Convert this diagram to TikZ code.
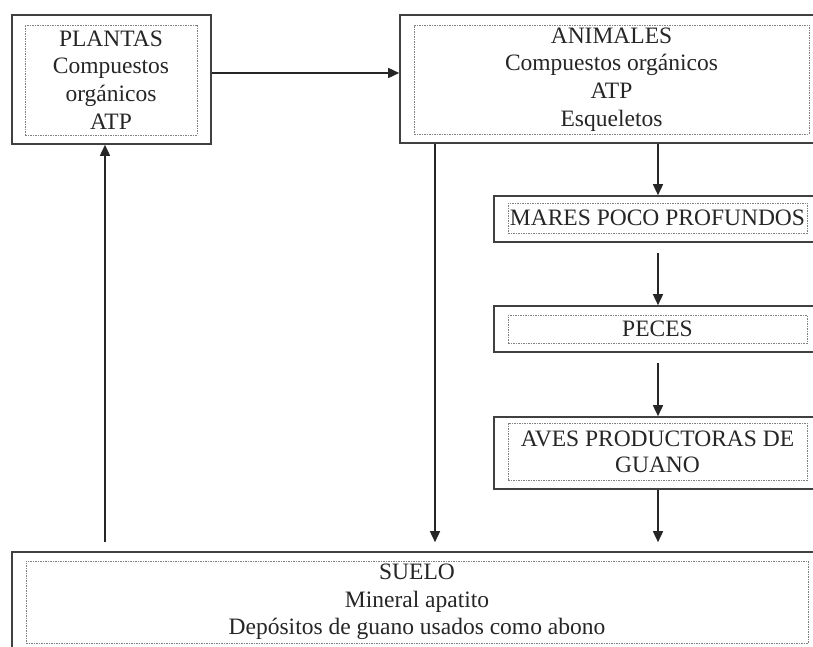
\documentclass[tikz,border=0pt]{standalone}
\usepackage{fontspec}
\setmainfont{Liberation Serif}
\usetikzlibrary{arrows.meta}
\begin{document}
\begin{tikzpicture}[x=1pt,y=-1pt,
  outerbox/.style={draw=black!75, line width=1.6pt, rectangle, inner sep=0pt},
  innerbox/.style={draw=black!50, line width=0.9pt, dash pattern=on 1.5pt off 1pt, rectangle, inner sep=0pt,
    align=center, text=black!85, font=\fontsize{23.5}{27.7}\selectfont},
  arr/.style={draw=black!85, line width=1.5pt, -{Triangle[length=11pt,width=10pt]}}]
\useasboundingbox (0,0) rectangle (813,647);
\clip (0,0) rectangle (813,647);
\fill[white] (0,0) rectangle (813,647);

% outer frames
\node[outerbox, minimum width=199pt, minimum height=129pt] (plantas) at (111.5,79.5) {};
\node[outerbox, minimum width=430pt, minimum height=128pt] (animales) at (615,79) {};
\node[outerbox, minimum width=336pt, minimum height=46pt] (mares) at (662,219) {};
\node[outerbox, minimum width=336pt, minimum height=46pt] (peces) at (662,329) {};
\node[outerbox, minimum width=336pt, minimum height=72pt] (aves) at (662,453) {};
\node[outerbox, minimum width=818pt, minimum height=113pt] (suelo) at (421,608.5) {};

% inner dotted frames with text
\node[innerbox, minimum width=172pt, minimum height=110pt] (plantasT) at (111,80) {PLANTAS\\Compuestos\\orgánicos\\ATP};
\node[innerbox, minimum width=395pt, minimum height=109pt] (animalesT) at (611.5,79.5) {ANIMALES\\Compuestos orgánicos\\ATP\\Esqueletos};
\node[innerbox, minimum width=299pt, minimum height=30pt] (maresT) at (657.5,218) {MARES POCO PROFUNDOS};
\node[innerbox, minimum width=299pt, minimum height=28pt] (pecesT) at (657.5,329) {PECES};
\node[innerbox, minimum width=299pt, minimum height=57pt] (avesT) at (657.5,451.5) {AVES PRODUCTORAS DE\\[-1.7pt]GUANO};
\node[innerbox, minimum width=782pt, minimum height=82pt] (sueloT) at (417,602) {SUELO\\Mineral apatito\\Depósitos de guano usados como abono};

% helper coordinates
\coordinate (ya) at (0,73);
\coordinate (xa) at (435,0);
\coordinate (xb) at (658,0);
\coordinate (xc) at (105,0);

% connectors
\draw[arr] (plantas.east |- ya) -- (animales.west |- ya);
\draw[arr, shorten >=9pt] (animales.south -| xa) -- (suelo.north -| xa);
\draw[arr] (animales.south -| xb) -- (mares.north -| xb);
\draw[arr, shorten <=10pt] (mares.south -| xb) -- (peces.north -| xb);
\draw[arr, shorten <=10pt] (peces.south -| xb) -- (aves.north -| xb);
\draw[arr, shorten >=9pt] (aves.south -| xb) -- (suelo.north -| xb);
\draw[arr, shorten <=9pt] (suelo.north -| xc) -- (plantas.south -| xc);
\end{tikzpicture}
\end{document}
